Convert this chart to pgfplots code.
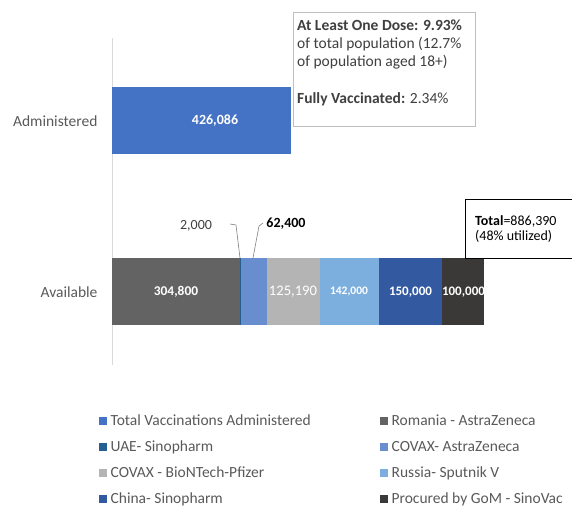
\documentclass[border=0pt]{standalone}
\usepackage{fontspec}
\setmainfont{Carlito}
\usepackage{pgfplots}
\pgfplotsset{compat=1.18}

\definecolor{cAdm}{HTML}{4472C4}
\definecolor{cRom}{HTML}{636363}
\definecolor{cUAE}{HTML}{255E91}
\definecolor{cCovAZ}{HTML}{698ED0}
\definecolor{cPfz}{HTML}{B4B4B4}
\definecolor{cRus}{HTML}{7CAFDD}
\definecolor{cChn}{HTML}{335AA1}
\definecolor{cGoM}{HTML}{3B3838}
\definecolor{txtGray}{HTML}{595959}
\definecolor{txtDark}{HTML}{404040}
\definecolor{lineGray}{HTML}{D9D9D9}
\definecolor{boxGray}{HTML}{BFBFBF}

\newcommand{\colA}[1]{\makebox[265pt][l]{#1}}

\begin{document}
\begin{tikzpicture}[x=1pt,y=1pt,font=\fontsize{15.5}{18}\selectfont]
\path[use as bounding box] (0,0) rectangle (572,507);
\begin{axis}[
    at={(112pt,142pt)}, anchor=south west,
    scale only axis, width=460pt, height=327pt,
    xbar stacked, bar width=67pt,
    xmin=0, xmax=1095000,
    ymin=-0.427, ymax=1.485,
    axis x line=none,
    axis y line*=left,
    y axis line style={draw=lineGray, line width=0.8pt},
    ytick={0,1}, yticklabels={Available,Administered},
    major tick length=0pt,
    yticklabel style={text=txtGray, xshift=-11pt},
    legend columns=2,
    legend cell align=left,
    legend image code/.code={\fill[#1] (0pt,-4pt) rectangle (8pt,4pt);},
    legend style={draw=none, fill=none, text=txtGray, row sep=9.6pt,
        at={(-0.036,-0.14)}, anchor=north west,
        /tikz/every even column/.append style={column sep=0pt},
        nodes={inner xsep=4pt}},
    clip=false,
]
% order of coordinates: Available (y=0), Administered (y=1)
\addplot[fill=cAdm, draw=none] coordinates {(0,0) (426086,1)};
\addlegendentry{\colA{Total Vaccinations Administered}}
\addplot[fill=cRom, draw=none] coordinates {(304800,0) (0,1)};
\addlegendentry{Romania - AstraZeneca}
\addplot[fill=cUAE, draw=none] coordinates {(2000,0) (0,1)};
\addlegendentry{\colA{UAE- Sinopharm}}
\addplot[fill=cCovAZ, draw=none] coordinates {(62400,0) (0,1)};
\addlegendentry{COVAX- AstraZeneca}
\addplot[fill=cPfz, draw=none] coordinates {(125190,0) (0,1)};
\addlegendentry{\colA{COVAX - BioNTech-Pfizer}}
\addplot[fill=cRus, draw=none] coordinates {(142000,0) (0,1)};
\addlegendentry{Russia- Sputnik V}
\addplot[fill=cChn, draw=none] coordinates {(150000,0) (0,1)};
\addlegendentry{\colA{China- Sinopharm}}
\addplot[fill=cGoM, draw=none] coordinates {(100000,0) (0,1)};
\addlegendentry{Procured by GoM - SinoVac}
\end{axis}

% value labels on the bars
\node[text=white, font=\fontsize{14}{16}\selectfont\bfseries] at (215,386) {426,086};
\node[text=white, font=\fontsize{13.4}{16}\selectfont\bfseries] at (176,215) {304,800};
\node[text=white, font=\fontsize{14.6}{17}\selectfont] at (293,215) {125,190};
\node[text=white, font=\fontsize{11.5}{14}\selectfont\bfseries] at (349,215) {142,000};
\node[text=white, font=\fontsize{13}{15}\selectfont\bfseries] at (410.5,215) {150,000};
\node[text=white, font=\fontsize{13}{15}\selectfont\bfseries] at (463.5,215) {100,000};

% callouts for the thin segments
\draw[gray, line width=0.6pt] (230,283) -- (236,282) -- (240,249);
\draw[gray, line width=0.6pt] (263,284) -- (259,281) -- (253,249);
\node[text=txtDark, font=\fontsize{14}{16}\selectfont] at (196,281) {2,000};
\node[text=black, font=\fontsize{14}{16}\selectfont\bfseries] at (286,283) {62,400};

% dose text box
\draw[boxGray, line width=0.8pt, fill=white] (293,381) rectangle (475,495);
\node[anchor=base west, text=txtDark, inner sep=0pt] at (297,476.5) {\bfseries At Least One Dose: 9.93\%};
\node[anchor=base west, text=txtDark, inner sep=0pt] at (297,458) {of total population (12.7\%};
\node[anchor=base west, text=txtDark, inner sep=0pt] at (297,440) {of population aged 18+)};
\node[anchor=base west, text=txtDark, inner sep=0pt] at (297,403) {\textbf{Fully Vaccinated:} 2.34\%};

% total box
\draw[black, line width=0.8pt, fill=white] (465,249) rectangle (580,308);
\node[anchor=base west, text=black, inner sep=0pt, font=\fontsize{14}{16}\selectfont] at (475,282) {\textbf{Total}=886,390};
\node[anchor=base west, text=black, inner sep=0pt, font=\fontsize{14}{16}\selectfont] at (475,267) {(48\% utilized)};
\end{tikzpicture}
\end{document}
